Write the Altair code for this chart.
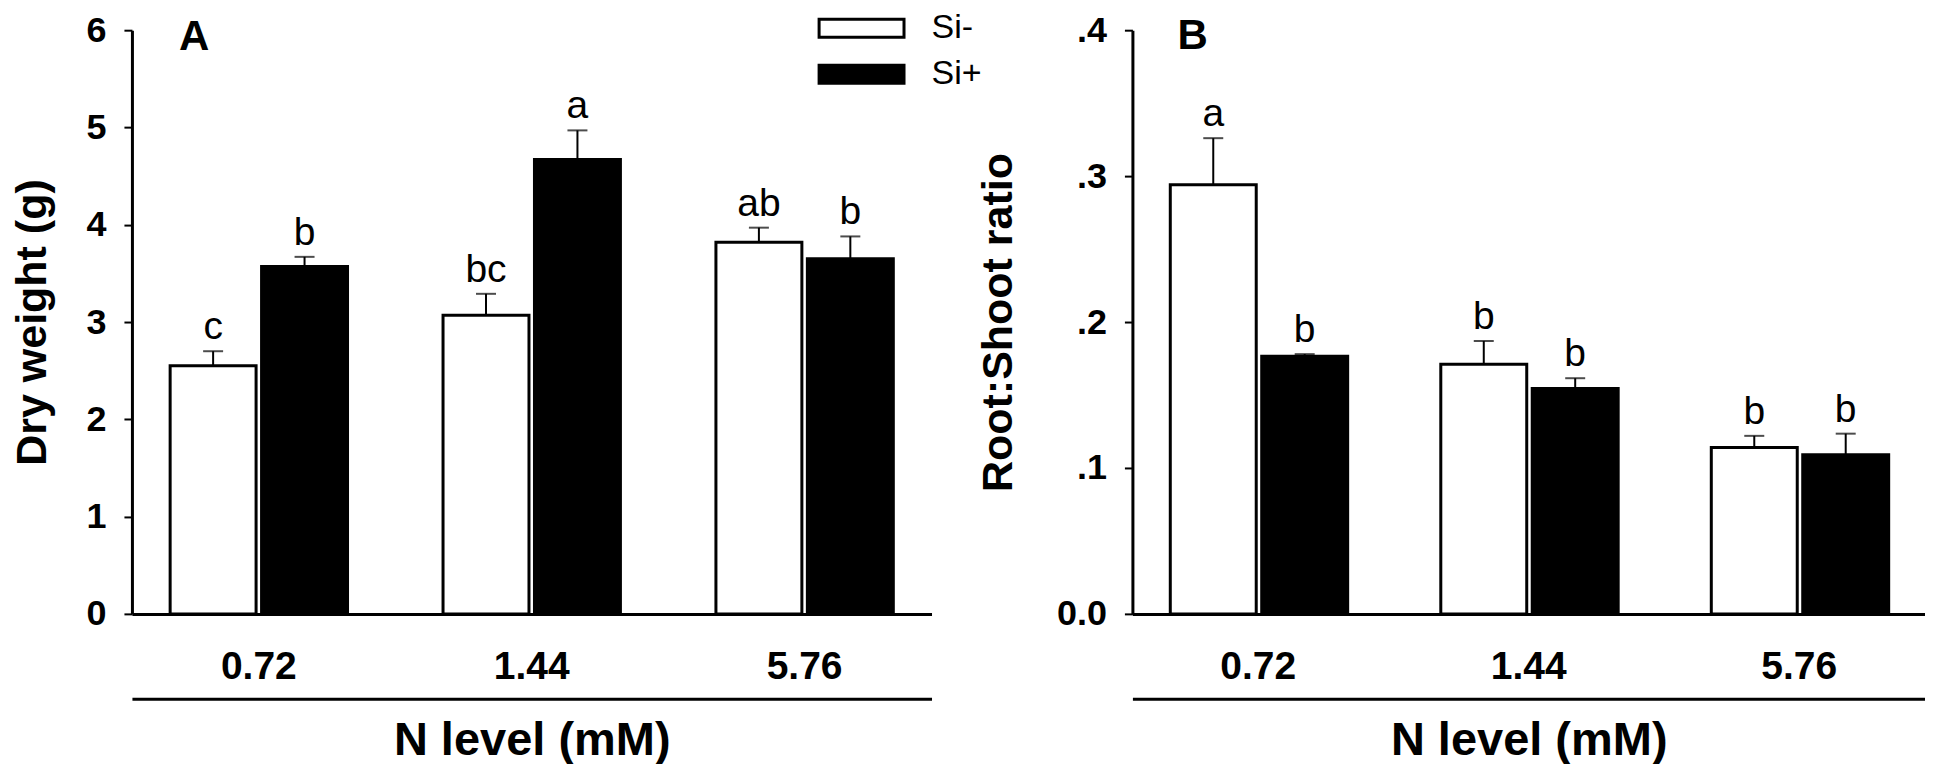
import altair as alt
import pandas as pd

# ---------------- data ----------------
n_levels = ["0.72", "1.44", "5.76"]
treatments = ["Si-", "Si+"]

dw_si_minus = [2.55, 3.07, 3.82]
dw_si_plus = [3.57, 4.67, 3.65]
dw_err_minus = [0.15, 0.22, 0.15]
dw_err_plus = [0.10, 0.30, 0.23]
dw_let_minus = ["c", "bc", "ab"]
dw_let_plus = ["b", "a", "b"]

rs_si_minus = [0.294, 0.171, 0.114]
rs_si_plus = [0.1765, 0.1545, 0.109]
rs_err_minus = [0.032, 0.016, 0.008]
rs_err_plus = [0.0015, 0.007, 0.0145]
rs_let_minus = ["a", "b", "b"]
rs_let_plus = ["b", "b", "b"]

y_ticks_a = [0, 1, 2, 3, 4, 5, 6]
y_ticks_b = [0.0, 0.1, 0.2, 0.3, 0.4]


def frame(m_minus, m_plus, e_minus, e_plus, l_minus, l_plus):
    rows = []
    for i, n in enumerate(n_levels):
        rows.append(dict(N=n, T="Si-", mean=m_minus[i], top=m_minus[i] + e_minus[i], lab=l_minus[i]))
        rows.append(dict(N=n, T="Si+", mean=m_plus[i], top=m_plus[i] + e_plus[i], lab=l_plus[i]))
    return pd.DataFrame(rows)


df_a = frame(dw_si_minus, dw_si_plus, dw_err_minus, dw_err_plus, dw_let_minus, dw_let_plus)
df_b = frame(rs_si_minus, rs_si_plus, rs_err_minus, rs_err_plus, rs_let_minus, rs_let_plus)

FONT = "Liberation Sans"
# wide flat rectangle symbol (85 x 18 px at size 324)
LEGEND_PATH = "M-4.72,-1L4.72,-1L4.72,1L-4.72,1Z"


def panel(df, letter, ytitle, ydomain, yticks, ylabel_expr, width, title_pad,
          tag_x, tag_y, show_legend):
    xscale = alt.Scale(domain=n_levels, paddingInner=0.35, paddingOuter=0.14)
    xoff = alt.XOffset("T:N", scale=alt.Scale(domain=treatments, paddingInner=0.06, paddingOuter=0))
    yaxis = alt.Axis(values=yticks, grid=False, domainWidth=3, domainColor="black",
                     tickWidth=2, tickSize=8, tickColor="black",
                     labelFont=FONT, labelFontSize=36, labelFontWeight="bold", labelColor="black",
                     labelPadding=18, labelExpr=ylabel_expr,
                     title=ytitle, titleFont=FONT, titleFontSize=43, titleFontWeight="bold",
                     titleColor="black", titlePadding=title_pad)
    yscale = alt.Scale(domain=ydomain, nice=False, zero=True)

    if show_legend:
        legend = alt.Legend(title=None, orient="none", legendX=713, legendY=-19,
                            symbolType=LEGEND_PATH, symbolSize=324,
                            symbolStrokeColor="black", symbolStrokeWidth=3,
                            labelFont=FONT, labelFontSize=34, labelColor="black",
                            labelOffset=53, rowPadding=12, padding=0)
    else:
        legend = None

    bars = alt.Chart(df).mark_bar(stroke="black", strokeWidth=3).encode(
        x=alt.X("N:N", scale=xscale, sort=n_levels,
                axis=alt.Axis(title=None, labelAngle=0, ticks=False, domainWidth=3,
                              domainColor="black", labelFont=FONT, labelFontSize=39,
                              labelFontWeight="bold", labelColor="black",
                              labelPadding=34)),
        xOffset=xoff,
        y=alt.Y("mean:Q", scale=yscale, axis=yaxis),
        fill=alt.Fill("T:N", scale=alt.Scale(domain=treatments, range=["white", "black"]),
                      legend=legend),
    )

    err = alt.Chart(df).mark_rule(color="black", strokeWidth=2).encode(
        x=alt.X("N:N", scale=xscale, sort=n_levels, axis=None),
        xOffset=xoff,
        y=alt.Y("mean:Q", scale=yscale),
        y2="top:Q",
    )

    caps = alt.Chart(df).mark_tick(color="black", thickness=2, size=20).encode(
        x=alt.X("N:N", scale=xscale, sort=n_levels,
                axis=alt.Axis(orient="bottom", offset=85, labels=False, ticks=False,
                              domainWidth=3, domainColor="black",
                              title="N level (mM)", titleFont=FONT, titleFontSize=47,
                              titleFontWeight="bold", titleColor="black", titlePadding=19)),
        xOffset=xoff,
        y=alt.Y("top:Q", scale=yscale),
    )

    letters = alt.Chart(df).mark_text(font=FONT, fontSize=39, color="black",
                                      baseline="alphabetic", dy=-12).encode(
        x=alt.X("N:N", scale=xscale, sort=n_levels, axis=None),
        xOffset=xoff,
        y=alt.Y("top:Q", scale=yscale),
        text="lab:N",
    )

    tag = alt.Chart(pd.DataFrame({"t": [letter]})).mark_text(
        font=FONT, fontSize=42, fontWeight="bold", color="black", align="left",
        baseline="alphabetic").encode(
        x=alt.value(tag_x), y=alt.value(tag_y), text="t:N")

    return alt.layer(bars, err, caps, letters, tag).resolve_axis(x="independent").properties(
        width=width, height=584)


label_b = "datum.value == 0 ? '0.0' : replace(format(datum.value, '.1f'), '0.', '.')"

panel_a = panel(df_a, "A", "Dry weight (g)", [0, 6], y_ticks_a, "format(datum.value, 'd')",
                800, 31, 47, 20, True)
panel_b = panel(df_b, "B", "Root:Shoot ratio", [0, 0.4], y_ticks_b, label_b,
                793, 36, 45, 19, False)

chart = alt.hconcat(panel_a, panel_b, spacing=201, bounds="flush").resolve_scale(
    fill="independent").properties(
    padding={"left": 3, "top": 3, "right": 0, "bottom": 0},
    background="white",
).configure_view(stroke=None)

chart.save("out.html", embed_options={"renderer": "svg", "actions": False})
